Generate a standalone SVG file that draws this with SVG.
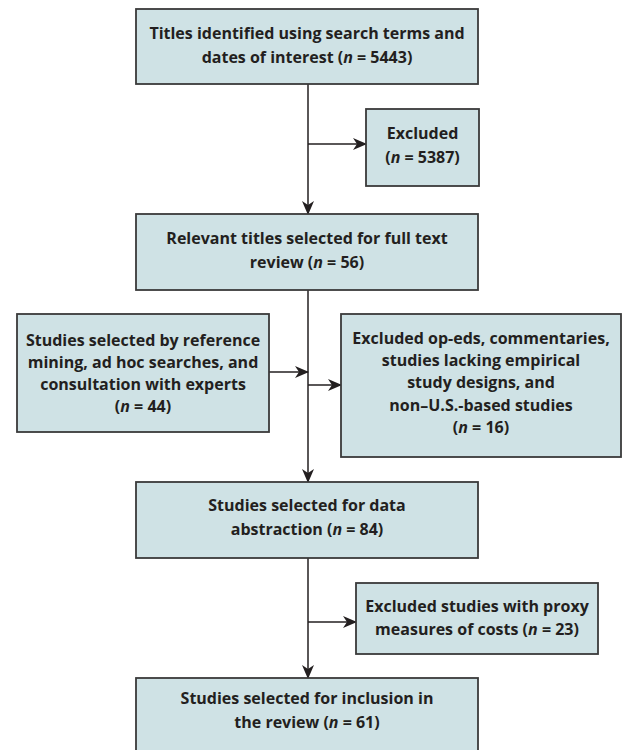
<svg xmlns="http://www.w3.org/2000/svg" width="624" height="750" viewBox="0 0 624 750">
<defs>
<marker id="ah" markerUnits="userSpaceOnUse" markerWidth="14" markerHeight="12" viewBox="0 0 14 12" refX="13" refY="6" orient="auto">
<path d="M0,0 L14,6 L0,12 L4,6 z" fill="#231f20"/>
</marker>
<style>
.box{fill:#cfe2e5;stroke:#3a3a3a;stroke-width:1.8}
.t{font-family:"Open Sans","Noto Sans","DejaVu Sans",sans-serif;font-weight:700;font-size:16px;fill:#231f20;text-anchor:middle}
.i{font-style:italic}
.c{fill:none;stroke:#231f20;stroke-width:1.5}
</style>
</defs>
<rect width="624" height="750" fill="#fff"/>
<g id="connectors">
<line class="c" x1="308" y1="84" x2="308" y2="214" marker-end="url(#ah)"/>
<line class="c" x1="308" y1="144" x2="366" y2="144" marker-end="url(#ah)"/>
<line class="c" x1="308" y1="290" x2="308" y2="482" marker-end="url(#ah)"/>
<line class="c" x1="269" y1="372" x2="308" y2="372" marker-end="url(#ah)"/>
<line class="c" x1="308" y1="385" x2="341" y2="385" marker-end="url(#ah)"/>
<line class="c" x1="308" y1="558" x2="308" y2="678" marker-end="url(#ah)"/>
<line class="c" x1="308" y1="622" x2="356" y2="622" marker-end="url(#ah)"/>
</g>
<g id="n1">
<rect class="box" x="136" y="9" width="342" height="75"/>
<text class="t" x="307" y="39">Titles identified using search terms and</text>
<text class="t" x="307" y="63">dates of interest (<tspan class="i">n</tspan> = 5443)</text>
</g>
<g id="n2">
<rect class="box" x="366" y="109" width="113" height="77"/>
<text class="t" x="422.5" y="139">Excluded</text>
<text class="t" x="422.5" y="163">(<tspan class="i">n</tspan> = 5387)</text>
</g>
<g id="n3">
<rect class="box" x="136" y="214" width="342" height="76"/>
<text class="t" x="307" y="244">Relevant titles selected for full text</text>
<text class="t" x="307" y="268">review (<tspan class="i">n</tspan> = 56)</text>
</g>
<g id="n4">
<rect class="box" x="17" y="314" width="252" height="118"/>
<text class="t" x="143" y="346">Studies selected by reference</text>
<text class="t" x="143" y="368">mining, ad hoc searches, and</text>
<text class="t" x="143" y="390">consultation with experts</text>
<text class="t" x="143" y="412">(<tspan class="i">n</tspan> = 44)</text>
</g>
<g id="n5">
<rect class="box" x="341" y="314" width="280" height="143"/>
<text class="t" x="481" y="344">Excluded op-eds, commentaries,</text>
<text class="t" x="481" y="366">studies lacking empirical</text>
<text class="t" x="481" y="388">study designs, and</text>
<text class="t" x="481" y="411">non–U.S.-based studies</text>
<text class="t" x="481" y="433">(<tspan class="i">n</tspan> = 16)</text>
</g>
<g id="n6">
<rect class="box" x="136" y="482" width="342" height="76"/>
<text class="t" x="307" y="511">Studies selected for data</text>
<text class="t" x="307" y="535">abstraction (<tspan class="i">n</tspan> = 84)</text>
</g>
<g id="n7">
<rect class="box" x="356" y="583" width="242" height="71"/>
<text class="t" x="477" y="612">Excluded studies with proxy</text>
<text class="t" x="477" y="635">measures of costs (<tspan class="i">n</tspan> = 23)</text>
</g>
<g id="n8">
<rect class="box" x="136" y="678" width="342" height="80"/>
<text class="t" x="307" y="704">Studies selected for inclusion in</text>
<text class="t" x="307" y="728">the review (<tspan class="i">n</tspan> = 61)</text>
</g>
</svg>
